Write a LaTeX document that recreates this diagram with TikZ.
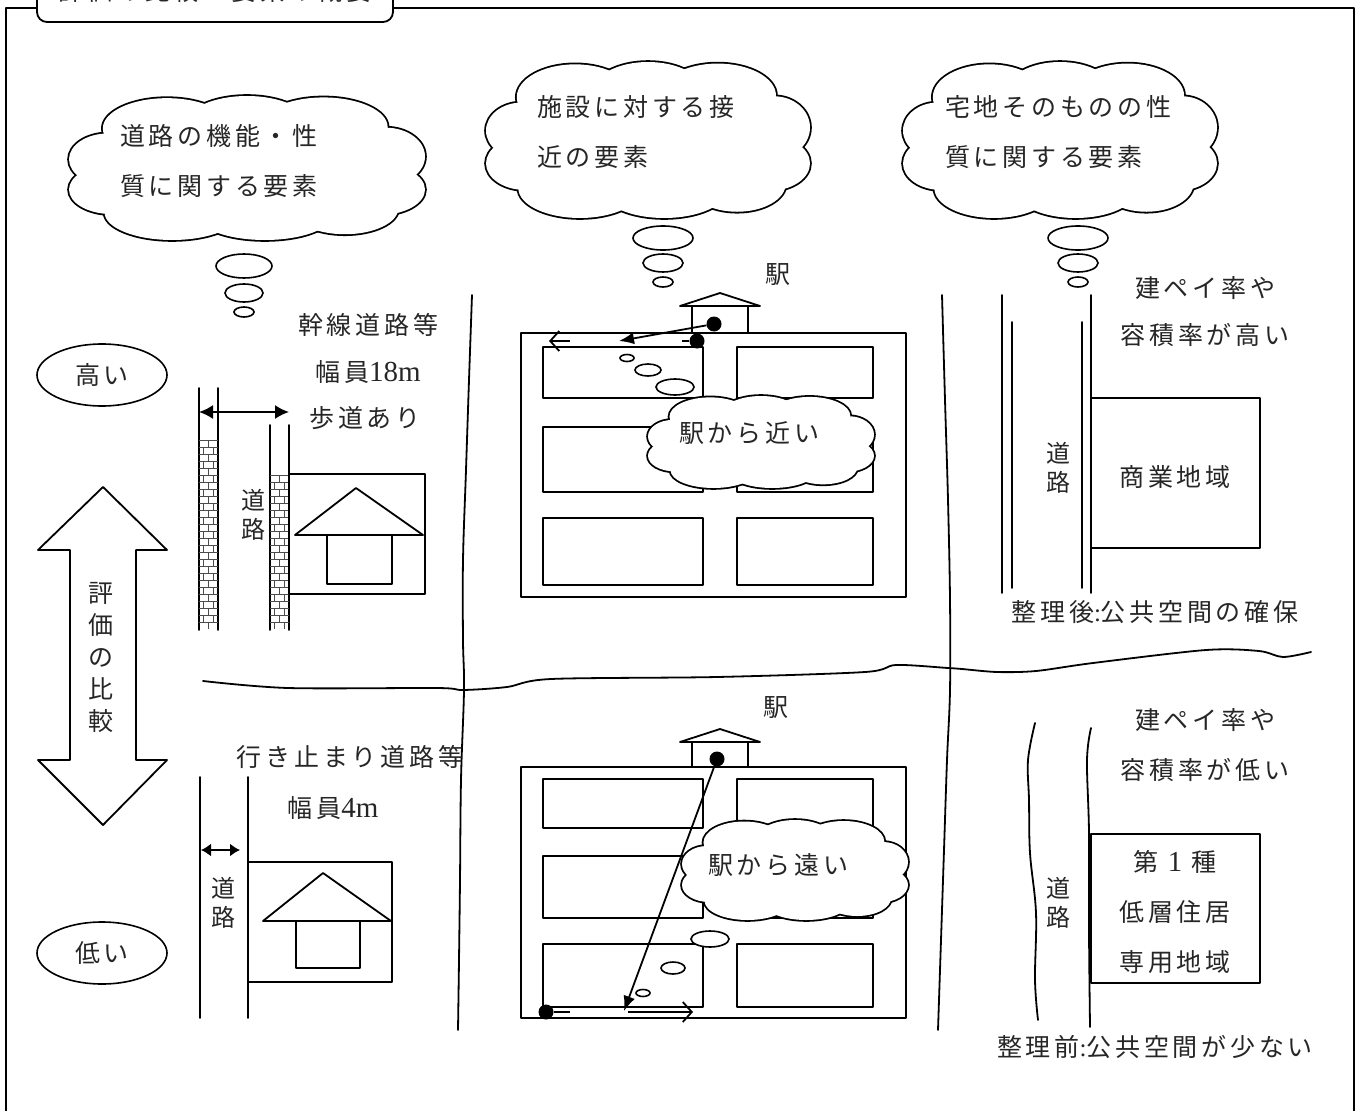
\documentclass[tikz,border=0pt]{standalone}
\usepackage{fontspec}
\setmainfont{Noto Sans CJK JP}[LetterSpace=15]
\newfontfamily\lat{Liberation Serif}
\newcommand\latin[1]{{\lat\fontsize{29}{50}\selectfont #1}}
\usetikzlibrary{shapes.geometric,arrows.meta}

% puffs of a cloud, in a box from -1 to 1 each way (x, y, x radius, y radius)
\newcommand\cloudset{0/0/0.8/0.72, -0.45/-0.55/0.36/0.42, 0.0/-0.62/0.34/0.38,
  0.43/-0.57/0.36/0.41, -0.78/-0.12/0.22/0.36, -0.76/0.3/0.24/0.34,
  0.78/-0.16/0.22/0.4, 0.75/0.3/0.25/0.35, -0.42/0.62/0.38/0.38,
  0.1/0.65/0.38/0.35, 0.55/0.56/0.3/0.36}
% outline of the union of the puffs, filled white
\newcommand\drawcloud[4]{%
  \begin{scope}[shift={(#1,#2)}, x=#3pt, y=-#4pt]
    \foreach \px/\py/\rx/\ry in \cloudset {
      \draw[line width=3.6pt] (\px,\py) ellipse [x radius=\rx, y radius=\ry];}
    \foreach \px/\py/\rx/\ry in \cloudset {
      \fill[white] (\px,\py) ellipse [x radius=\rx, y radius=\ry];}
  \end{scope}}

\tikzset{
  ln/.style={line width=1.8pt, line cap=round, line join=round},
  road/.style={line width=1.8pt, line cap=round},
  txt/.style={inner sep=0pt, text=black!85, font=\fontsize{25}{50}\selectfont, align=center},
  vtxt/.style={inner sep=0pt, text=black!85, font=\fontsize{24}{29}\selectfont, align=center},
  bub/.style={draw, fill=white, line width=1.6pt},
  dot/.style={circle, fill=black, inner sep=0pt, minimum size=15pt},
  solid tip/.style={-{Latex[length=15pt,width=12pt]}},
  open tip/.style={-{Straight Barb[length=9pt,width=20pt]}},
  both tips/.style={{Latex[length=14pt,width=14pt]}-{Latex[length=14pt,width=14pt]}},
  small tips/.style={{Latex[length=10pt,width=13pt]}-{Latex[length=10pt,width=13pt]}},
  brick/.style={line width=0.7pt, draw=black!70},
  pill/.style={ellipse, draw, line width=1.6pt, minimum width=130pt, minimum height=62pt,
    inner sep=0pt, text=black!85, font=\fontsize{25}{30}\selectfont},
}

\begin{document}
\begin{tikzpicture}[x=1pt,y=-1pt]
\useasboundingbox (0,0) rectangle (1364,1110);
\clip (0,0) rectangle (1364,1110);

% outer frame and tab
\draw[ln] (6,8) rectangle (1354,1130);
\node (title) [draw, ln, fill=white, rounded corners=10pt, minimum width=356pt,
  minimum height=62pt, inner sep=0pt] at (215,-9) {};
\node[txt] (titletext) at (215,-9) {評価の比較　要素の概要};

% evaluation scale
\node[pill] (high) at (102,375) {高い};
\node[pill] (low) at (102,953) {低い};
\draw[ln, fill=white] (103,487) -- (167,550) -- (136,550) -- (136,760) -- (167,760)
  -- (103,825) -- (38,760) -- (70,760) -- (70,550) -- (38,550) -- cycle;
\node[vtxt, font=\fontsize{25}{32}\selectfont] (cmp) at (101,657) {評\\価\\の\\比\\較};

% thought clouds
\drawcloud{247}{168}{178}{72}
\node[txt, align=left, anchor=west] (roadtxt) at (120,161) {道路の機能・性\\質に関する要素};
\draw[bub] (244,266) ellipse [x radius=28, y radius=12];
\draw[bub] (244,293) ellipse [x radius=19, y radius=9];
\draw[bub] (244,312) ellipse [x radius=10, y radius=5];

\drawcloud{648}{140}{162}{78}
\node[txt, align=left, anchor=west] (faciltxt) at (537,132) {施設に対する接\\近の要素};
\draw[bub] (663,238) ellipse [x radius=30, y radius=12];
\draw[bub] (663,263) ellipse [x radius=20, y radius=9];
\draw[bub] (663,282) ellipse [x radius=10, y radius=5];

\drawcloud{1060}{140}{157}{78}
\node[txt, align=left, anchor=west] (lottxt) at (945,132) {宅地そのものの性\\質に関する要素};
\draw[bub] (1078,238) ellipse [x radius=30, y radius=12];
\draw[bub] (1078,263) ellipse [x radius=20, y radius=9];
\draw[bub] (1078,282) ellipse [x radius=10, y radius=5];

% dividing streets
\draw[road] plot[smooth, tension=0.6] coordinates {(472,295) (469,380) (466,470)
  (463,560) (463,640) (464,690) (461,780) (460,880) (459,960) (458,1030)};
\draw[road] plot[smooth, tension=0.6] coordinates {(942,295) (945,400) (948,500)
  (950,600) (950,690) (947,760) (944,850) (941,940) (938,1030)};
\draw[road] plot[smooth, tension=0.5] coordinates {(203,681) (288,688) (437,688)
  (463,690) (507,687) (551,679) (717,677) (865,672) (896,665) (948,668) (962,669)
  (997,672) (1036,671) (1093,663) (1206,650) (1259,651) (1283,657) (1311,652)};

% arterial road with sidewalks
\draw[road] (199,388) -- (199,630) (218,388) -- (218,630);
\draw[road] (270,425) -- (270,630) (289,425) -- (289,630);
\foreach \yy [count=\k] in {440,447,...,622} {
  \draw[brick] (199,\yy) -- (218,\yy);
  \ifodd\k \draw[brick] (208.5,\yy) -- (208.5,\yy+7);
  \else \draw[brick] (203.5,\yy) -- (203.5,\yy+7) (213.5,\yy) -- (213.5,\yy+7); \fi
}
\foreach \yy [count=\k] in {475,482,...,622} {
  \draw[brick] (270,\yy) -- (289,\yy);
  \ifodd\k \draw[brick] (279.5,\yy) -- (279.5,\yy+7);
  \else \draw[brick] (274.5,\yy) -- (274.5,\yy+7) (284.5,\yy) -- (284.5,\yy+7); \fi
}
\coordinate (wa) at (199,412);
\coordinate (wb) at (289,412);
\draw[line width=1.8pt, both tips] (wa) -- (wb);
\node[vtxt] (roadA) at (253,515) {道\\路};
\draw[ln] (289,474) rectangle (425,594);
\draw[ln] (295,535) -- (356,488) -- (423,535) -- cycle;
\draw[ln] (327,535) rectangle (392,584);
\node[txt] (artA) at (368,325) {幹線道路等};
\node[txt] (artB) at (368,372) {幅員\latin{18m}};
\node[txt] (artC) at (365,418) {歩道あり};

% dead-end road
\draw[road] (200,777) -- (200,1018) (248,777) -- (248,1018);
\coordinate (na) at (201,850);
\coordinate (nb) at (240,850);
\draw[line width=1.8pt, small tips] (na) -- (nb);
\node[vtxt] (roadB) at (223,903) {道\\路};
\draw[ln] (248,862) rectangle (392,982);
\draw[ln] (263,921) -- (323,873) -- (391,921) -- cycle;
\draw[ln] (296,921) rectangle (360,968);
\node[txt] (deadA) at (350,757) {行き止まり道路等};
\node[txt] (deadB) at (333,808) {幅員\latin{4m}};

% district near the station
\draw[ln] (521,333) rectangle (906,597);
\draw[ln] (543,347) rectangle (703,398) (737,347) rectangle (873,398);
\draw[ln] (543,427) rectangle (703,492) (737,427) rectangle (873,492);
\draw[ln] (543,518) rectangle (703,585) (737,518) rectangle (873,585);
\draw[ln, fill=white] (692,306) rectangle (748,333);
\draw[ln, fill=white] (680,306) -- (720,293) -- (760,306) -- cycle;
\node[txt] (stnA) at (778,275) {駅};
\node[dot] (st1) at (714,324) {};
\node[dot] (d1) at (697,341) {};
\coordinate (n1) at (619,341);
\coordinate (n1s) at (682,341);
\coordinate (n1a) at (570,341);
\coordinate (n1b) at (549,341);
\draw[line width=1.8pt, solid tip] (st1) -- (n1);
\draw[line width=1.8pt] (d1) -- (n1s);
\draw[line width=1.8pt, open tip] (n1a) -- (n1b);
\draw[bub] (627,358) ellipse [x radius=7, y radius=3.5];
\draw[bub] (648,370) ellipse [x radius=13, y radius=6];
\draw[bub] (675,387) ellipse [x radius=19, y radius=8];
\drawcloud{761}{442}{113}{46}
\node[txt] (neartxt) at (749,433) {駅から近い};

% district far from the station
\draw[ln] (521,767) rectangle (906,1018);
\draw[ln] (543,779) rectangle (703,828) (737,779) rectangle (873,828);
\draw[ln] (543,856) rectangle (703,918) (737,856) rectangle (873,918);
\draw[ln] (543,944) rectangle (703,1007) (737,944) rectangle (873,1007);
\draw[ln, fill=white] (692,742) rectangle (748,767);
\draw[ln, fill=white] (680,742) -- (720,729) -- (760,742) -- cycle;
\node[txt] (stnB) at (776,708) {駅};
\node[dot] (st2) at (717,759) {};
\node[dot] (d2) at (546,1012) {};
\coordinate (n2) at (624,1011);
\coordinate (n2s) at (570,1012);
\coordinate (n2a) at (628,1012);
\coordinate (n2b) at (693,1012);
\draw[line width=1.8pt, solid tip] (st2) -- (n2);
\draw[line width=1.8pt] (d2) -- (n2s);
\draw[line width=1.8pt, open tip] (n2a) -- (n2b);
\draw[bub] (643,993) ellipse [x radius=7, y radius=3.5];
\draw[bub] (673,968) ellipse [x radius=12, y radius=6];
\draw[bub] (710,939) ellipse [x radius=19, y radius=8];
\drawcloud{795}{870}{113}{50}
\node[txt] (fartxt) at (778,865) {駅から遠い};

% commercial zone (after readjustment)
\draw[road] (1002,295) -- (1002,593) (1012,322) -- (1012,588);
\draw[road] (1082,322) -- (1082,588) (1091,295) -- (1091,593);
\draw[ln] (1091,398) rectangle (1260,548);
\node[txt] (comm) at (1175,477) {商業地域};
\node[vtxt] (roadC) at (1058,468) {道\\路};
\node[txt] (hiA) at (1205,288) {建ペイ率や};
\node[txt] (hiB) at (1205,335) {容積率が高い};
\node[txt] (after) at (1155,612) {整理後{\lat :}公共空間の確保};

% residential zone (before readjustment)
\draw[road] plot[smooth, tension=0.6] coordinates {(1035,723) (1028,760) (1029,800)
  (1030,853) (1036,913) (1035,980) (1038,1020)};
\draw[road] plot[smooth, tension=0.6] coordinates {(1091,728) (1087,760) (1089,833)
  (1089,930) (1090,1027)};
\draw[ln, fill=white] (1091,834) rectangle (1260,983);
\node[txt] (resi) at (1175,912) {第 \latin{1} 種\\低層住居\\専用地域};
\node[vtxt] (roadD) at (1058,903) {道\\路};
\node[txt] (loA) at (1205,720) {建ペイ率や};
\node[txt] (loB) at (1205,770) {容積率が低い};
\node[txt] (before) at (1155,1047) {整理前{\lat :}公共空間が少ない};
\end{tikzpicture}
\end{document}
